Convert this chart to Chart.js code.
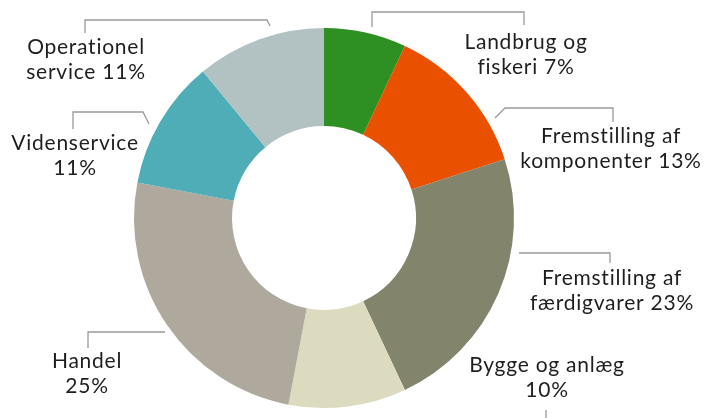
<!DOCTYPE html>
<html>
<head>
<meta charset="utf-8">
<script src="https://cdn.jsdelivr.net/npm/chart.js@4.4.0/dist/chart.umd.min.js"></script>
<style>
  body { margin: 0; background: #fff; }
  #wrap { width: 705px; height: 418px; }
</style>
</head>
<body>
<div id="wrap"><canvas id="myChart" width="705" height="418"></canvas></div>
<script>
// Data
const categories = ["Landbrug og fiskeri", "Fremstilling af komponenter", "Fremstilling af færdigvarer",
    "Bygge og anlæg", "Handel", "Videnservice", "Operationel service"];
const shares = [7, 13, 23, 10, 25, 11, 11];
const colors = ["#2e8f22", "#e95100", "#82856b", "#dcdbbf", "#afa89c", "#4eadb7", "#b2c1c1"];

// Label text lines, one entry per slice
const labelLines = [
    ["Landbrug og", "fiskeri 7%"],
    ["Fremstilling af", "komponenter 13%"],
    ["Fremstilling af", "færdigvarer 23%"],
    ["Bygge og anlæg", "10%"],
    ["Handel", "25%"],
    ["Videnservice", "11%"],
    ["Operationel", "service 11%"]
];

// Label placement relative to doughnut centre: text centre x, first baseline y, leader polyline
const labelLayout = [
    { x: 202, y: -169, path: [[48, -191], [48, -206], [200, -206], [200, -193]] },
    { x: 287, y: -75, path: [[171, -100], [181, -110], [289, -110], [289, -96]] },
    { x: 288, y: 67, path: [[195, 35], [286, 35], [286, 45]] },
    { x: 223, y: 154, path: [[222, 192], [222, 200]] },
    { x: -237, y: 150, path: [[-159, 114], [-236, 114], [-236, 130]] },
    { x: -249, y: -68, path: [[-175, -94], [-181, -106], [-251, -106], [-251, -89]] },
    { x: -238, y: -164, path: [[-54, -192], [-57, -198], [-239, -198], [-239, -185]] }
];

const labelPlugin = {
    id: "sliceLabels",
    afterDraw(chart) {
        const arc = chart.getDatasetMeta(0).data[0];
        const cx = arc.x, cy = arc.y;
        const ctx = chart.ctx;
        ctx.save();
        ctx.strokeStyle = "#9a9a9a";
        ctx.lineWidth = 1.3;
        labelLayout.forEach((l, i) => {
            ctx.beginPath();
            l.path.forEach((p, j) => {
                if (j === 0) ctx.moveTo(cx + p[0], cy + p[1]);
                else ctx.lineTo(cx + p[0], cy + p[1]);
            });
            ctx.stroke();
            ctx.fillStyle = "#1e1e1e";
            ctx.font = "21px Lato";
            ctx.letterSpacing = "0.75px";
            ctx.textAlign = "center";
            ctx.textBaseline = "alphabetic";
            labelLines[i].forEach((t, k) => {
                ctx.fillText(t, cx + l.x, cy + l.y + k * 25);
            });
        });
        ctx.restore();
    }
};

const ctx = document.getElementById("myChart").getContext("2d");
new Chart(ctx, {
    type: "doughnut",
    data: {
        labels: categories,
        datasets: [{
            data: shares,
            backgroundColor: colors,
            borderWidth: 0,
            hoverOffset: 0
        }]
    },
    options: {
        responsive: false,
        animation: false,
        cutout: "48.4%",
        layout: { padding: { left: 0, right: 57, top: 28, bottom: 10 } },
        plugins: {
            legend: { display: false },
            tooltip: { enabled: false }
        }
    },
    plugins: [labelPlugin]
});
</script>
</body>
</html>
